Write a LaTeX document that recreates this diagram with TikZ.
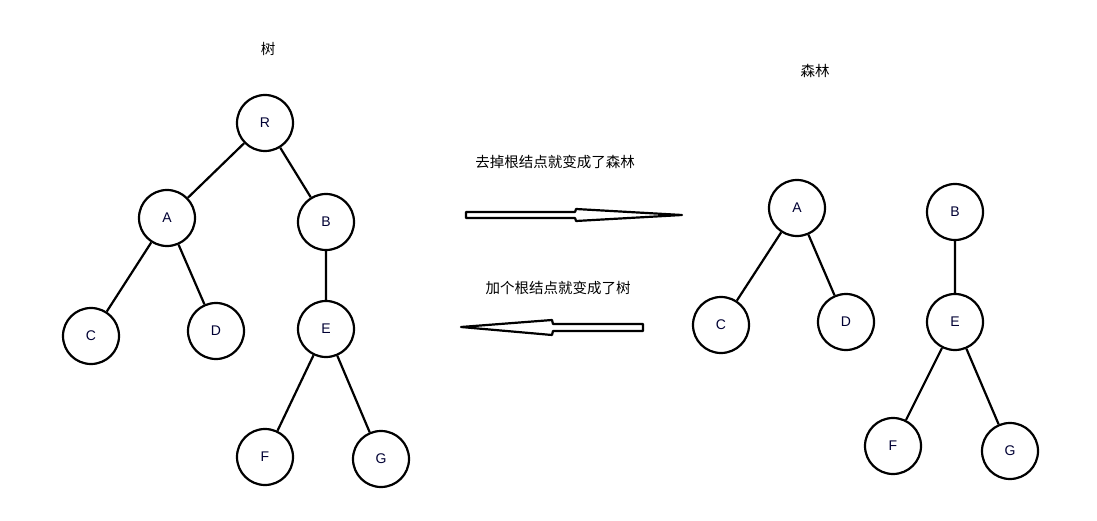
\documentclass[tikz,border=0pt]{standalone}
\usepackage{fontspec}
\setmainfont{Liberation Sans}
\newfontfamily\cjk{Noto Sans CJK SC}
\begin{document}
\begin{tikzpicture}[x=1pt,y=-1pt,
  nd/.style={circle,draw,line width=2.2pt,minimum size=56pt,inner sep=0pt,font=\fontsize{14}{16}\selectfont,text=black!80!blue},
  ed/.style={line width=2.2pt},
  lbl/.style={font=\cjk\fontsize{14.5}{16}\selectfont}]
\path[use as bounding box] (0,0) rectangle (1097,521);
\node[nd] (R) at (265,123) {R};
\node[nd] (A) at (167,218) {A};
\node[nd] (B) at (326,222) {B};
\node[nd] (C) at (91,336) {C};
\node[nd] (D) at (216,331) {D};
\node[nd] (E) at (326,329) {E};
\node[nd] (F) at (265,457) {F};
\node[nd] (G) at (381,459) {G};
\draw[ed] (R)--(A) (R)--(B) (A)--(C) (A)--(D) (B)--(E) (E)--(F) (E)--(G);
\node[nd] (A2) at (797,208) {A};
\node[nd] (B2) at (955,212) {B};
\node[nd] (C2) at (721,325) {C};
\node[nd] (D2) at (846,322) {D};
\node[nd] (E2) at (955,322) {E};
\node[nd] (F2) at (893,446) {F};
\node[nd] (G2) at (1010,451) {G};
\draw[ed] (A2)--(C2) (A2)--(D2) (B2)--(E2) (E2)--(F2) (E2)--(G2);
\node[lbl] (t1) at (268,49) {树};
\node[lbl] (t2) at (815,71) {森林};
\node[lbl] (l1) at (555,162) {去掉根结点就变成了森林};
\node[lbl] (l2) at (558,288) {加个根结点就变成了树};
\draw[line width=2.2pt,line join=round] (466,212)--(575,212)--(576,209)--(682,215)--(576,221)--(575,218)--(466,218)--cycle;
\draw[line width=2.2pt,line join=round] (643,324)--(553,324)--(552,320)--(461,327)--(552,335)--(553,331)--(643,331)--cycle;
\end{tikzpicture}
\end{document}
